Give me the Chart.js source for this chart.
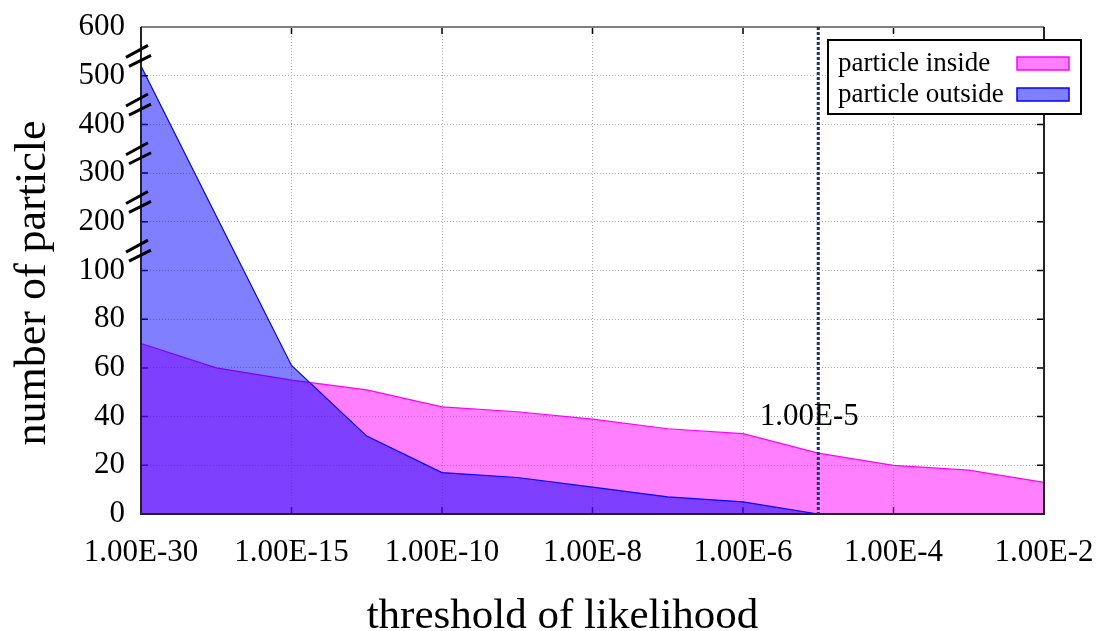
<!DOCTYPE html>
<html>
<head>
<meta charset="utf-8">
<script src="https://cdn.jsdelivr.net/npm/chart.js@4.4.0/dist/chart.umd.min.js"></script>
<style>
html, body { margin:0; padding:0; background:#fff; }
#wrap { width:1099px; height:631px; }
</style>
</head>
<body>
<div id="wrap"><canvas id="likelihood_chart" width="1099" height="631"></canvas></div>
<script>
// thresholds (only every second one gets a tick label)
var thresholds = ["1.00E-30","1.00E-20","1.00E-15","1.00E-12","1.00E-10","1.00E-9","1.00E-8","1.00E-7","1.00E-6","1.00E-5","1.00E-4","1.00E-3","1.00E-2"];
var particle_inside = [70,60,55,51,44,42,39,35,33,25,20,18,13];
var particle_outside = [520,212,61,32,17,15,11,7,5,0,null,null,null];
var y_tick_labels = [0,20,40,60,80,100,200,300,400,500,600];
var cut_label = "1.00E-5";

var serif = "'Liberation Serif', 'Times New Roman', serif";

// broken y axis: 0-100 as is, above 100 one grid step = 100
function toAxis(v) {
    if (v === null) return null;
    return v <= 100 ? v : 100 + (v - 100) / 5;
}

var decor = {
    id: 'decor',
    beforeDatasetsDraw: function(chart) {
        var ctx = chart.ctx, a = chart.chartArea, xs = chart.scales.x, ys = chart.scales.y;
        ctx.save();
        ctx.strokeStyle = '#000';
        ctx.lineWidth = 1.5;
        ctx.beginPath();
        ys.ticks.forEach(function(t) {
            var y = ys.getPixelForValue(t.value);
            ctx.moveTo(a.left, y); ctx.lineTo(a.left + 7, y);
            ctx.moveTo(a.right, y); ctx.lineTo(a.right - 7, y);
        });
        for (var i = 0; i < thresholds.length; i += 2) {
            var x = xs.getPixelForValue(i);
            ctx.moveTo(x, a.bottom); ctx.lineTo(x, a.bottom - 7);
            ctx.moveTo(x, a.top); ctx.lineTo(x, a.top + 7);
        }
        ctx.stroke();
        ctx.restore();
    },
    afterDatasetsDraw: function(chart) {
        var ctx = chart.ctx, a = chart.chartArea, xs = chart.scales.x, ys = chart.scales.y;
        ctx.save();
        // frame
        ctx.lineWidth = 2;
        ctx.strokeStyle = '#808080';
        ctx.beginPath(); ctx.moveTo(a.left, a.top); ctx.lineTo(a.right, a.top); ctx.stroke();
        ctx.strokeStyle = '#222';
        ctx.beginPath();
        ctx.moveTo(a.left, a.top); ctx.lineTo(a.left, a.bottom); ctx.lineTo(a.right, a.bottom); ctx.lineTo(a.right, a.top);
        ctx.stroke();

        // threshold line at 1.00E-5
        var cx = xs.getPixelForValue(thresholds.indexOf(cut_label));
        ctx.strokeStyle = '#1c2f6e';
        ctx.lineWidth = 3;
        ctx.setLineDash([3, 2]);
        ctx.beginPath(); ctx.moveTo(cx, a.top); ctx.lineTo(cx, a.bottom); ctx.stroke();
        ctx.setLineDash([]);
        ctx.fillStyle = '#000';
        ctx.font = '31px ' + serif;
        ctx.textAlign = 'center';
        ctx.textBaseline = 'alphabetic';
        ctx.fillText(cut_label, cx - 9, ys.getPixelForValue(40) + 8);

        // axis break marks between the labels above 100
        ctx.strokeStyle = '#000';
        ctx.lineWidth = 3;
        for (var v = 110; v < 200; v += 20) {
            var y = ys.getPixelForValue(v);
            ctx.beginPath();
            ctx.moveTo(a.left - 15, y + 6); ctx.lineTo(a.left + 7, y - 6);
            ctx.moveTo(a.left - 12, y + 15); ctx.lineTo(a.left + 10, y + 4);
            ctx.stroke();
        }
        ctx.restore();
    },
    afterDraw: function(chart) {
        var ctx = chart.ctx, a = chart.chartArea;
        ctx.save();
        // legend box
        var bx = a.right - 216, by = a.top + 13;
        ctx.fillStyle = '#fff';
        ctx.fillRect(bx, by, 253, 74);
        ctx.strokeStyle = '#000';
        ctx.lineWidth = 2;
        ctx.strokeRect(bx, by, 253, 74);
        ctx.font = '27px ' + serif;
        ctx.textAlign = 'left';
        ctx.textBaseline = 'alphabetic';
        var ds = chart.data.datasets;
        var order = [1, 0];
        for (var k = 0; k < order.length; k++) {
            var d = ds[order[k]];
            var ty = by + 31 + k * 31;
            ctx.fillStyle = '#000';
            ctx.fillText(d.label, bx + 10, ty);
            ctx.fillStyle = d.backgroundColor;
            ctx.fillRect(bx + 189, ty - 14, 52, 13);
            ctx.strokeStyle = d.borderColor;
            ctx.lineWidth = 1.5;
            ctx.strokeRect(bx + 189, ty - 14, 52, 13);
        }
        // axis titles
        ctx.fillStyle = '#000';
        ctx.font = '43px ' + serif;
        ctx.textAlign = 'center';
        ctx.fillText('threshold of likelihood', (a.left + a.right) / 2 - 30, 628);
        ctx.translate(45, 283);
        ctx.rotate(-Math.PI / 2);
        ctx.font = '44px ' + serif;
        ctx.fillText('number of particle', 0, 0);
        ctx.restore();
    }
};

var ctx1 = document.getElementById('likelihood_chart').getContext('2d');
var myChart1 = new Chart(ctx1, {
    type: 'line',
    data: {
        labels: thresholds,
        datasets: [{
            label: 'particle outside',
            data: particle_outside.map(toAxis),
            borderColor: '#0000ff',
            backgroundColor: 'rgba(0, 0, 255, 0.5)',
            borderWidth: 1.2,
            pointRadius: 0,
            fill: 'origin',
            tension: 0
        },
        {
            label: 'particle inside',
            data: particle_inside.map(toAxis),
            borderColor: '#ff00ff',
            backgroundColor: 'rgba(255, 0, 255, 0.5)',
            borderWidth: 1.2,
            pointRadius: 0,
            fill: 'origin',
            tension: 0
        }]
    },
    options: {
        responsive: false,
        animation: false,
        layout: { padding: { top: 27, right: 55, left: 0, bottom: 0 } },
        plugins: {
            legend: { display: false },
            tooltip: { enabled: false }
        },
        scales: {
            x: {
                offset: false,
                afterFit: function(scale) {
                    scale.height = 117;
                    scale.paddingLeft = 0;
                    scale.paddingRight = 0;
                },
                grid: {
                    drawTicks: false,
                    color: function(c) { return c.index % 2 === 0 ? '#b0b0b0' : 'rgba(0,0,0,0)'; },
                    lineWidth: 1
                },
                border: { display: false, dash: [1, 2] },
                ticks: {
                    autoSkip: false,
                    maxRotation: 0,
                    padding: 20,
                    color: '#000',
                    font: { family: serif, size: 31 },
                    callback: function(val, i) { return i % 2 === 0 ? this.getLabelForValue(val) : ''; }
                }
            },
            y: {
                min: 0,
                max: 200,
                afterFit: function(scale) {
                    scale.width = 141;
                    scale.paddingTop = 0;
                    scale.paddingBottom = 0;
                },
                grid: { drawTicks: false, color: '#b0b0b0', lineWidth: 1 },
                border: { display: false, dash: [1, 2] },
                ticks: {
                    stepSize: 20,
                    padding: 16,
                    color: '#000',
                    font: { family: serif, size: 31 },
                    callback: function(val) { return y_tick_labels[Math.round(val / 20)]; }
                }
            }
        }
    },
    plugins: [decor]
});
</script>
</body>
</html>
